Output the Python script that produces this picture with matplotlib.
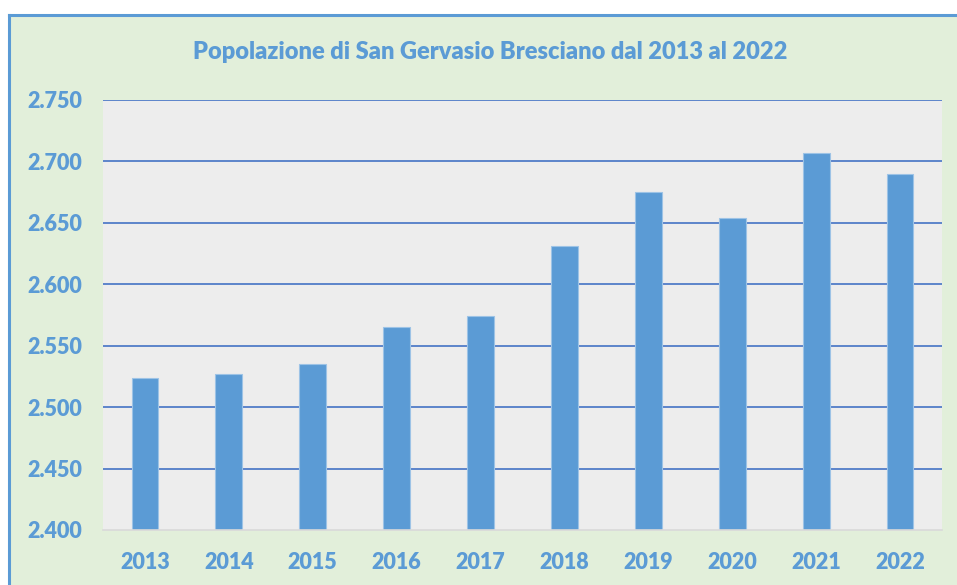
import matplotlib
matplotlib.use("Agg")
import matplotlib.pyplot as plt
from matplotlib.patches import Rectangle
from matplotlib.lines import Line2D

years = ["2013", "2014", "2015", "2016", "2017", "2018", "2019", "2020", "2021", "2022"]
population = [2524, 2527, 2535, 2565, 2574, 2631, 2675, 2654, 2707, 2690]
yticks = [2400, 2450, 2500, 2550, 2600, 2650, 2700, 2750]
ytick_labels = ["2.400", "2.450", "2.500", "2.550", "2.600", "2.650", "2.700", "2.750"]
title = "Popolazione di San Gervasio Bresciano dal 2013 al 2022"

W, H = 957, 585
fig = plt.figure(figsize=(W / 100, H / 100), dpi=100)
fig.patch.set_facecolor("white")

# outer chart frame (green, blue border on top and left; cut off right and bottom)
fx, fy = 9 / W, 1 - 15 / H
frame = Rectangle((fx, -0.05), 1.1, fy + 0.05, transform=fig.transFigure,
                  facecolor="#E2EFDA", edgecolor="none", zorder=-5)
fig.patches.append(frame)
fig.lines.append(Line2D([fx, fx], [-0.05, fy], transform=fig.transFigure,
                        color="#5B9BD5", linewidth=2.2, zorder=-4))
fig.lines.append(Line2D([fx, 1.05], [fy, fy], transform=fig.transFigure,
                        color="#5B9BD5", linewidth=2.2, zorder=-4))

left, right, top, bottom = 103, 942, 100, 530
ax = fig.add_axes([left / W, 1 - bottom / H, (right - left) / W, (bottom - top) / H])
ax.set_zorder(2)
ax.set_facecolor("#EDEDED")

x = list(range(len(years)))
ax.bar(x, population, width=0.32, color="#5B9BD5", edgecolor="#9DC3E6",
       linewidth=0.8, zorder=3)

ax.set_ylim(2400, 2750)
ax.set_xlim(-0.5, len(years) - 0.5)
ax.set_yticks(yticks)
ax.set_yticklabels(ytick_labels)
ax.set_xticks(x)
ax.set_xticklabels(years)

for v in yticks[1:]:
    ax.axhline(v, color="#4472C4", linewidth=1.4, alpha=0.85, zorder=2)

for s in ["top", "right", "left"]:
    ax.spines[s].set_visible(False)
ax.spines["bottom"].set_color("#D9D9D9")
ax.spines["bottom"].set_linewidth(1.2)
ax.spines["bottom"].set_zorder(4)

font = "Lato"
ax.tick_params(axis="both", length=0, labelcolor="#5B9BD5", labelsize=15.5)
ax.tick_params(axis="y", pad=15)
ax.tick_params(axis="x", pad=15.5)
for lab in ax.get_xticklabels() + ax.get_yticklabels():
    lab.set_fontfamily(font)
    lab.set_fontweight("heavy")

fig.text(490 / W, 1 - 52 / H, title, ha="center", va="center", color="#5B9BD5",
         fontsize=17, fontweight="heavy", fontfamily=font)

fig.savefig("out.png", dpi=100, facecolor=fig.get_facecolor())
